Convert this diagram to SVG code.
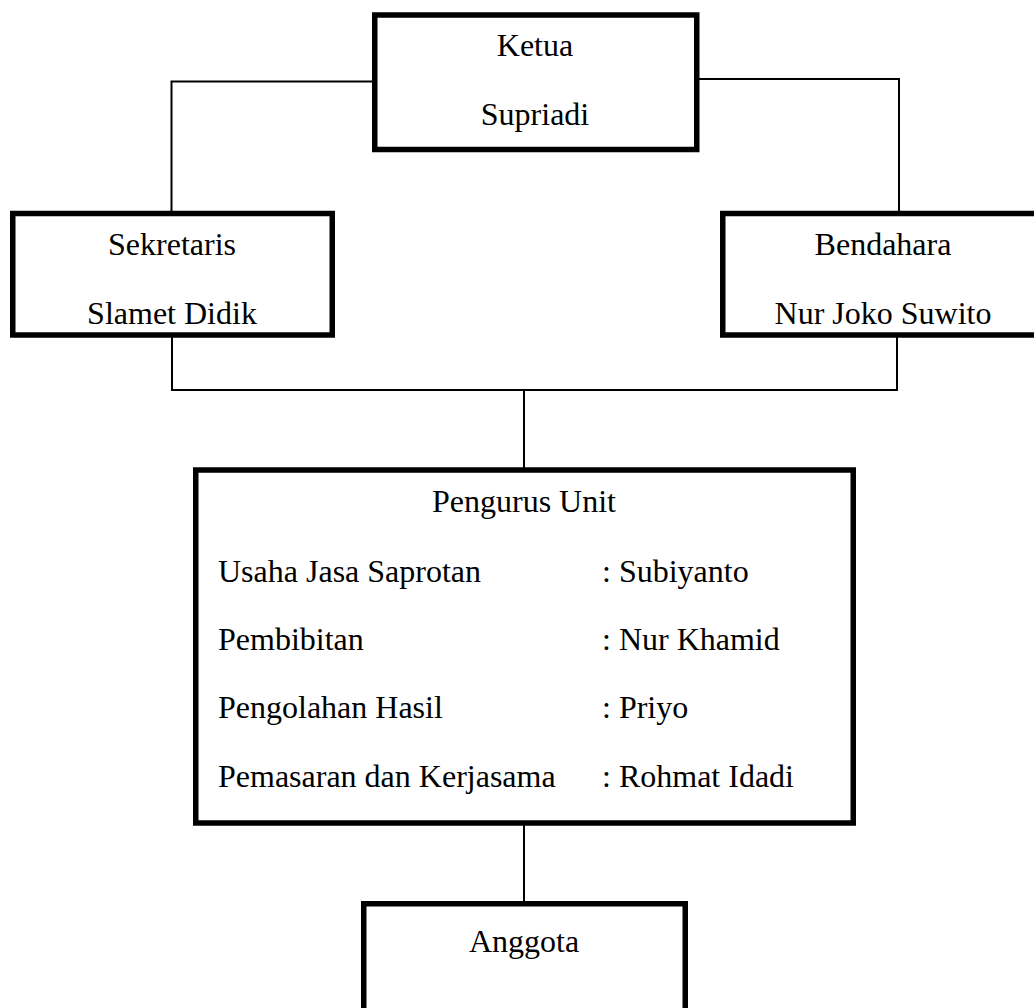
<svg xmlns="http://www.w3.org/2000/svg" width="1034" height="1008" viewBox="0 0 1034 1008">
<style>
.box{fill:#fff;stroke:#000;stroke-width:5.5}
.conn{fill:none;stroke:#000;stroke-width:2}
text{font-family:"Liberation Serif","Times New Roman",serif;font-size:32px;fill:#000}
.c{text-anchor:middle}
</style>
<rect width="1034" height="1008" fill="#fff"/>
<g id="connectors">
<path class="conn" d="M374,81.5 H171.5 V211"/>
<path class="conn" d="M698,79 H899 V211"/>
<path class="conn" d="M172,337 V390 H897 V337"/>
<path class="conn" d="M524,390 V468"/>
<path class="conn" d="M524,825 V902"/>
</g>
<g id="ketua">
<rect class="box" x="374.75" y="15" width="322" height="134.5"/>
<text class="c" x="535" y="56">Ketua</text>
<text class="c" x="535" y="125">Supriadi</text>
</g>
<g id="sekretaris">
<rect class="box" x="12.75" y="213.5" width="319.5" height="121.5"/>
<text class="c" x="172" y="255">Sekretaris</text>
<text class="c" x="172" y="324">Slamet Didik</text>
</g>
<g id="bendahara">
<rect class="box" x="722.75" y="213.5" width="330" height="121.5"/>
<text class="c" x="883" y="255">Bendahara</text>
<text class="c" x="883" y="324">Nur Joko Suwito</text>
</g>
<g id="pengurus-unit">
<rect class="box" x="195.75" y="470" width="657.5" height="353"/>
<text class="c" x="524" y="512">Pengurus Unit</text>
<text x="218" y="582">Usaha Jasa Saprotan</text>
<text x="602" y="582">: Subiyanto</text>
<text x="218" y="650">Pembibitan</text>
<text x="602" y="650">: Nur Khamid</text>
<text x="218" y="718">Pengolahan Hasil</text>
<text x="602" y="718">: Priyo</text>
<text x="218" y="787">Pemasaran dan Kerjasama</text>
<text x="602" y="787">: Rohmat Idadi</text>
</g>
<g id="anggota">
<rect class="box" x="363.75" y="903.75" width="321.5" height="120"/>
<text class="c" x="524" y="952">Anggota</text>
</g>
</svg>
